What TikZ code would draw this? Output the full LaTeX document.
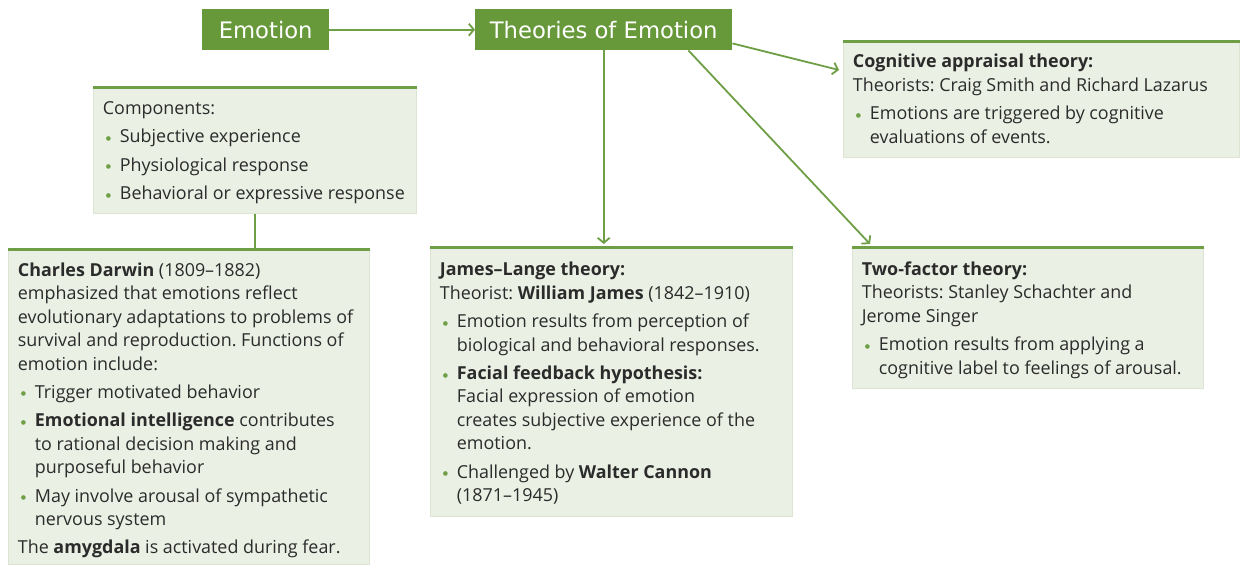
\documentclass[tikz,border=0pt]{standalone}
\usepackage{fontspec}
\usepackage{graphicx}
\setmainfont{Open Sans}
\newfontfamily\titlefont{DejaVu Sans}
\usetikzlibrary{arrows.meta,calc}
\definecolor{tgreen}{HTML}{67993B}
\definecolor{lgreen}{HTML}{EBF0E4}
\definecolor{edgegreen}{HTML}{DCE4D2}
\definecolor{lineg}{HTML}{6E9E46}
\definecolor{txt}{HTML}{2B2B2B}
\newcommand\bu{\makebox[17pt][l]{\hspace{3pt}\textcolor{lineg}{\raisebox{2.5pt}{\titlefont\fontsize{6}{6}\selectfont ●}}}}
\newcommand\ct{\hspace*{17pt}}
\newcommand\gap{\\[5pt]}
\newcommand\bxt[4]{\parbox[t][#2][t]{#1}{\raggedright\frenchspacing\fontsize{17.9}{23.4}\selectfont\rule{0pt}{#3}#4}}
\tikzset{
  titlebox/.style={fill=tgreen, text=white, font=\titlefont\fontsize{22.7}{26}\selectfont, inner sep=0pt, minimum height=41pt, anchor=north west},
  infobox/.style={fill=lgreen, draw=edgegreen, line width=0.8pt, inner xsep=9.5pt, inner ysep=0pt, anchor=north west, text=txt},
  topline/.style={draw=lineg, line width=3pt},
  arr/.style={draw=lineg, line width=1.8pt, -{Straight Barb[length=5pt,width=12pt,line width=1.8pt]}},
  conn/.style={draw=lineg, line width=1.8pt}
}
\begin{document}
\begin{tikzpicture}[x=1pt,y=-1pt]
\useasboundingbox (0,0) rectangle (1244,567);
\node[titlebox, minimum width=127pt] (emo) at (202,9) {Emotion};
\node[titlebox, minimum width=257pt] (theo) at (475,9) {Theories of Emotion};

\node[infobox] (comp) at (93,88) {\bxt{304pt}{125pt}{26pt}{Components:\gap
\bu Subjective experience\gap
\bu Physiological response\gap
\bu Behavioral or expressive response}};

\node[infobox] (darwin) at (8,249) {\bxt{342pt}{315pt}{27pt}{\textbf{Charles Darwin} (1809–1882)\\
emphasized that emotions reflect\\
evolutionary adaptations to problems of\\
survival and reproduction. Functions of\\
emotion include:\gap
\bu Trigger motivated behavior\gap
\bu \textbf{Emotional intelligence} contributes\\
\ct to rational decision making and\\
\ct purposeful behavior\gap
\bu May involve arousal of sympathetic\\
\ct nervous system\gap
The \textbf{amygdala} is activated during fear.}};

\node[infobox] (james) at (430,247) {\bxt{343pt}{269pt}{28.5pt}{\textbf{James–Lange theory:}\\
Theorist: \textbf{William James} (1842–1910)\gap
\bu Emotion results from perception of\\
\ct biological and behavioral responses.\gap
\bu \textbf{Facial feedback hypothesis:}\\
\ct Facial expression of emotion\\
\ct creates subjective experience of the\\
\ct emotion.\gap
\bu Challenged by \textbf{Walter Cannon}\\
\ct (1871–1945)}};

\node[infobox] (cog) at (843,42) {\bxt{377pt}{115pt}{25.5pt}{\textbf{Cognitive appraisal theory:}\\
Theorists: Craig Smith and Richard Lazarus\gap
\bu Emotions are triggered by cognitive\\
\ct evaluations of events.}};

\node[infobox] (two) at (852,247) {\bxt{332pt}{141pt}{28pt}{\textbf{Two-factor theory:}\\
Theorists: Stanley Schachter and\\
Jerome Singer\gap
\bu Emotion results from applying a\\
\ct cognitive label to feelings of arousal.}};

\foreach \b in {comp,darwin,james,cog,two}
  \draw[topline] (\b.north west) -- (\b.north east);

\draw[arr] (emo.east) -- (theo.west);
\draw[arr, shorten >=3pt] (theo.south) -- (theo.south |- james.north);
\draw[arr] ($(theo.south east)+(-44,0)$) -- ($(two.north west)+(18,-3)$);
\draw[arr] ($(theo.south east)+(0,-7)$) -- ($(cog.north west)+(-4,28)$);
\draw[conn] (comp.south) -- (comp.south |- darwin.north);
\end{tikzpicture}
\end{document}
